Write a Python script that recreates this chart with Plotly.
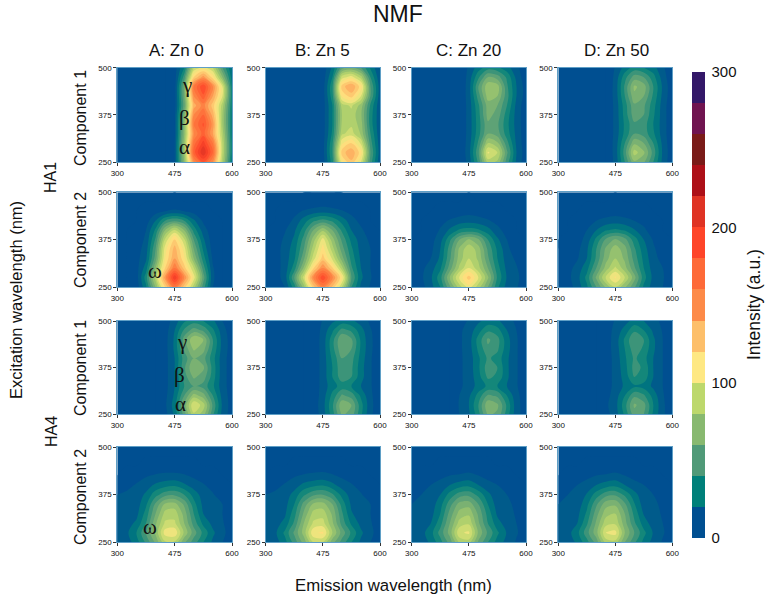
import plotly.graph_objects as go

EM_POS = list(range(13))
EX = [250, 275, 300, 325, 350, 375, 400, 425, 450, 475, 500]
EM_TICKS = [0, 6, 12]
EM_LABELS = ["300", "475", "600"]
EX_TICKS = [250, 375, 500]
COLS = ["A: Zn 0", "B: Zn 5", "C: Zn 20", "D: Zn 50"]
BAND_COLORS = ["#004f91", "#00807a", "#509a78", "#88b970", "#bdd86c", "#fee883", "#fdbf6a", "#fd8a48",
               "#fe6a38", "#fe4529", "#df3324", "#ad1018", "#7a1b18", "#701450", "#331868"]

HA1_C1_A = [
 [0,0,0,0,0,0,10,70,150,180,150,85,25],
 [0,0,0,0,0,0,10,75,175,210,170,90,30],
 [0,0,0,0,0,0,10,75,165,195,160,90,30],
 [0,0,0,0,0,0,8,70,150,175,140,85,28],
 [0,0,0,0,0,0,8,70,160,182,145,80,28],
 [0,0,0,0,0,0,8,65,150,170,135,80,28],
 [0,0,0,0,0,0,6,55,135,155,125,85,30],
 [0,0,0,0,0,0,6,60,150,178,140,100,32],
 [0,0,0,0,0,0,6,60,160,190,150,100,30],
 [0,0,0,0,0,0,5,45,120,145,115,70,25],
 [0,0,0,0,0,0,5,30,90,105,90,50,20]]
HA1_C1_B = [
 [0,0,0,0,0,0,5,35,110,128,100,45,12],
 [0,0,0,0,0,0,6,40,125,138,115,50,15],
 [0,0,0,0,0,0,6,38,108,120,98,45,14],
 [0,0,0,0,0,0,5,32,88,95,78,40,12],
 [0,0,0,0,0,0,5,30,82,88,75,35,12],
 [0,0,0,0,0,0,5,30,80,86,72,35,12],
 [0,0,0,0,0,0,5,30,85,92,76,38,12],
 [0,0,0,0,0,0,5,36,112,125,100,50,14],
 [0,0,0,0,0,0,5,38,125,140,115,50,15],
 [0,0,0,0,0,0,4,30,95,105,85,40,12],
 [0,0,0,0,0,0,3,22,55,62,50,28,10]]
HA1_C1_C = [
 [0,0,0,0,0,0,14,42,85,78,45,18,3],
 [0,0,0,0,0,0,16,48,102,90,52,20,4],
 [0,0,0,0,0,0,15,42,80,72,44,18,3],
 [0,0,0,0,0,0,14,36,60,55,35,17,3],
 [0,0,0,0,0,0,14,35,58,52,33,16,3],
 [0,0,0,0,0,0,14,36,64,56,35,16,3],
 [0,0,0,0,0,0,14,38,65,60,40,17,3],
 [0,0,0,0,0,0,15,45,75,70,44,20,5],
 [0,0,0,0,0,0,15,50,78,75,42,20,5],
 [0,0,0,0,0,0,14,38,60,55,38,17,3],
 [0,0,0,0,0,0,12,25,35,32,24,13,2]]
HA1_C1_D = [
 [0,0,0,0,0,0,13,40,68,62,40,17,2],
 [0,0,0,0,0,0,14,45,85,72,46,18,3],
 [0,0,0,0,0,0,14,40,68,60,40,17,2],
 [0,0,0,0,0,0,13,33,50,46,32,15,2],
 [0,0,0,0,0,0,13,32,48,45,30,15,2],
 [0,0,0,0,0,0,13,34,56,50,32,15,2],
 [0,0,0,0,0,0,13,35,58,52,34,15,2],
 [0,0,0,0,0,0,14,40,68,60,38,17,3],
 [0,0,0,0,0,0,14,42,72,65,40,18,3],
 [0,0,0,0,0,0,13,36,55,50,34,15,2],
 [0,0,0,0,0,0,11,24,34,30,24,12,2]]
HA1_C2_A = [
 [0,0,4,28,70,120,160,125,85,45,10,0,0],
 [0,0,5,35,85,145,200,150,105,55,12,0,0],
 [0,0,6,25,70,120,160,125,90,45,11,0,0],
 [0,0,6,18,55,110,140,112,70,35,8,0,0],
 [0,0,5,15,50,105,135,105,60,28,5,0,0],
 [0,0,4,12,42,92,122,92,50,22,4,0,0],
 [0,0,2,10,32,70,92,70,36,15,3,0,0],
 [0,0,0,5,20,40,48,40,22,8,2,0,0],
 [0,0,0,3,6,10,12,10,6,3,0,0,0],
 [0,0,0,0,0,0,1,0,0,0,0,0,0],
 [0,0,0,0,0,0,0,0,0,0,0,0,0]]
HA1_C2_B = [
 [0,3,10,35,75,125,155,128,90,40,18,9,2],
 [0,5,14,50,95,150,190,152,112,50,22,11,2],
 [0,5,14,35,72,118,150,122,84,42,20,10,2],
 [0,5,14,28,58,95,125,98,65,36,18,10,3],
 [0,5,14,25,50,85,115,85,55,32,16,10,3],
 [0,4,12,22,44,75,105,75,48,27,15,8,2],
 [0,2,9,18,35,60,78,60,38,20,12,4,0],
 [0,0,5,12,25,38,44,38,26,14,7,0,0],
 [0,0,2,7,11,14,16,14,11,7,3,0,0],
 [0,0,0,0,1,2,3,2,1,0,0,0,0],
 [0,0,0,0,0,0,0,0,0,0,0,0,0]]
HA1_C2_C = [
 [3,6,16,30,58,85,105,85,60,32,16,11,3],
 [3,8,18,36,70,102,125,100,72,38,19,13,3],
 [3,7,15,28,55,82,100,84,60,34,17,11,2],
 [1,4,10,22,48,75,90,78,52,30,15,8,0],
 [0,3,7,20,45,72,88,75,48,28,13,3,0],
 [0,2,6,16,38,60,72,62,40,22,10,2,0],
 [0,0,4,11,22,32,34,32,24,13,6,0,0],
 [0,0,3,7,11,14,16,14,11,7,3,0,0],
 [0,0,0,2,3,5,6,5,3,2,0,0,0],
 [0,0,0,0,0,0,1,0,0,0,0,0,0],
 [0,0,0,0,0,0,0,0,0,0,0,0,0]]
HA1_C2_D = [
 [2,5,14,28,50,72,90,72,52,28,15,10,2],
 [3,7,16,33,62,92,112,90,64,34,17,11,3],
 [3,6,14,26,50,74,92,74,52,30,15,10,2],
 [1,3,9,20,42,66,80,68,46,27,13,7,0],
 [0,2,7,18,40,62,76,64,42,24,12,3,0],
 [0,2,5,14,33,52,62,54,35,20,9,1,0],
 [0,0,3,10,20,29,32,29,21,12,5,0,0],
 [0,0,3,7,10,13,15,13,10,7,3,0,0],
 [0,0,0,2,3,4,5,4,3,2,0,0,0],
 [0,0,0,0,0,0,1,0,0,0,0,0,0],
 [0,0,0,0,0,0,0,0,0,0,0,0,0]]
HA4_C1_A = [
 [0,0,0,0,0,6,22,55,88,75,42,16,5],
 [0,0,0,0,0,8,25,62,100,85,48,18,5],
 [0,0,0,0,0,7,22,50,75,65,40,16,5],
 [0,0,0,0,0,6,20,40,50,46,32,14,5],
 [0,0,0,0,0,6,20,45,62,55,35,14,5],
 [0,0,0,0,0,6,20,48,70,62,36,14,5],
 [0,0,0,0,0,6,20,45,60,54,34,14,5],
 [0,0,0,0,0,6,22,52,72,64,38,16,5],
 [0,0,0,0,0,6,22,55,80,70,40,16,5],
 [0,0,0,0,0,5,20,42,55,48,32,14,4],
 [0,0,0,0,0,4,15,28,35,30,22,10,3]]
HA4_C1_B = [
 [0,0,0,0,0,3,15,35,62,56,32,12,3],
 [0,0,0,0,0,4,16,38,68,60,34,13,3],
 [0,0,0,0,0,3,15,33,52,46,28,12,3],
 [0,0,0,0,0,3,14,26,34,30,20,11,3],
 [0,0,0,0,0,3,14,30,46,40,24,11,3],
 [0,0,0,0,0,3,14,30,48,42,24,11,3],
 [0,0,0,0,0,3,14,32,50,44,26,11,3],
 [0,0,0,0,0,3,14,36,58,50,28,12,3],
 [0,0,0,0,0,3,14,36,60,52,28,12,3],
 [0,0,0,0,0,3,13,28,44,38,24,11,3],
 [0,0,0,0,0,2,11,18,24,22,16,8,2]]
HA4_C1_C = [
 [0,0,0,0,0,10,18,36,62,58,35,14,4],
 [0,0,0,0,0,11,20,40,68,62,38,14,4],
 [0,0,0,0,0,10,18,34,52,48,30,13,4],
 [0,0,0,0,0,8,14,24,32,30,20,11,3],
 [0,0,0,0,0,8,14,26,42,38,22,11,3],
 [0,0,0,0,0,8,14,28,46,40,22,11,3],
 [0,0,0,0,0,8,14,28,42,36,22,11,3],
 [0,0,0,0,0,8,15,32,48,42,24,11,3],
 [0,0,0,0,0,8,15,34,52,44,24,11,3],
 [0,0,0,0,0,8,14,26,38,34,20,10,3],
 [0,0,0,0,0,6,11,18,24,22,14,8,2]]
HA4_C1_D = [
 [0,0,0,0,0,6,15,32,56,50,28,12,3],
 [0,0,0,0,0,8,16,36,62,54,30,12,3],
 [0,0,0,0,0,6,15,30,48,42,26,11,3],
 [0,0,0,0,0,5,13,22,28,26,18,10,3],
 [0,0,0,0,0,5,13,24,40,36,20,10,2],
 [0,0,0,0,0,5,13,26,44,38,20,10,2],
 [0,0,0,0,0,5,13,28,42,34,20,10,2],
 [0,0,0,0,0,5,14,30,46,38,22,10,2],
 [0,0,0,0,0,5,14,32,50,40,22,10,2],
 [0,0,0,0,0,5,13,24,38,30,18,9,2],
 [0,0,0,0,0,4,11,16,24,20,14,7,2]]
HA4_C2_A = [
 [12,15,25,42,62,88,88,62,45,30,18,10,5],
 [14,18,30,50,72,105,108,78,55,37,22,12,6],
 [13,16,22,40,68,92,92,70,46,27,17,11,4],
 [13,14,17,34,60,84,86,66,40,20,15,10,3],
 [12,13,15,28,52,72,74,58,34,17,14,10,2],
 [10,12,14,22,36,46,48,40,26,15,11,4,0],
 [4,7,11,15,22,26,28,22,15,11,6,2,0],
 [0,2,6,9,11,12,12,11,8,5,2,0,0],
 [0,0,0,2,4,5,5,4,2,0,0,0,0],
 [0,0,0,0,0,0,0,0,0,0,0,0,0],
 [0,0,0,0,0,0,0,0,0,0,0,0,0]]
HA4_C2_B = [
 [12,15,26,44,64,90,90,64,46,30,18,10,5],
 [14,18,32,52,74,108,112,80,56,38,22,12,6],
 [13,16,23,42,70,92,94,72,46,28,17,11,4],
 [13,14,18,36,62,84,86,68,42,21,15,10,3],
 [12,13,16,30,54,72,74,60,36,18,14,10,2],
 [10,12,14,24,38,48,50,42,27,15,11,4,0],
 [4,7,11,15,23,27,29,23,15,11,6,2,0],
 [0,2,6,9,11,12,13,11,8,5,2,0,0],
 [0,0,0,2,4,5,5,4,2,0,0,0,0],
 [0,0,0,0,0,0,0,0,0,0,0,0,0],
 [0,0,0,0,0,0,0,0,0,0,0,0,0]]
HA4_C2_C = [
 [11,14,22,36,54,82,85,58,40,26,16,9,4],
 [13,16,26,44,64,98,102,68,48,32,19,11,5],
 [12,14,20,36,60,84,88,62,40,24,15,10,3],
 [11,13,16,30,54,74,78,58,36,18,13,9,2],
 [10,12,14,26,46,64,66,50,30,15,12,8,1],
 [8,10,12,20,34,45,47,37,23,13,10,3,0],
 [3,6,10,13,20,25,27,20,13,10,5,1,0],
 [0,1,5,8,10,11,13,10,7,4,1,0,0],
 [0,0,0,1,3,4,4,3,1,0,0,0,0],
 [0,0,0,0,0,0,0,0,0,0,0,0,0],
 [0,0,0,0,0,0,0,0,0,0,0,0,0]]
HA4_C2_D = [
 [11,14,22,36,54,84,86,60,42,27,16,9,4],
 [13,16,27,46,66,100,104,70,50,33,19,11,5],
 [12,14,20,38,62,86,88,64,42,25,15,10,3],
 [11,13,17,32,56,76,80,60,37,19,13,9,2],
 [10,12,14,27,48,66,68,52,31,15,12,8,1],
 [8,10,12,21,35,46,48,38,24,13,10,3,0],
 [3,6,10,13,20,25,27,20,13,10,5,1,0],
 [0,1,5,8,10,11,13,10,7,4,1,0,0],
 [0,0,0,1,3,4,4,3,1,0,0,0,0],
 [0,0,0,0,0,0,0,0,0,0,0,0,0],
 [0,0,0,0,0,0,0,0,0,0,0,0,0]]

PANELS = [
 [HA1_C1_A, HA1_C1_B, HA1_C1_C, HA1_C1_D],
 [HA1_C2_A, HA1_C2_B, HA1_C2_C, HA1_C2_D],
 [HA4_C1_A, HA4_C1_B, HA4_C1_C, HA4_C1_D],
 [HA4_C2_A, HA4_C2_B, HA4_C2_C, HA4_C2_D],
]

W, H = 768, 600
X_SPANS = [(117.3, 232.0), (265.7, 380.0), (411.7, 526.0), (558.3, 672.3)]
Y_SPANS = [(67.7, 162.0), (192.3, 287.0), (321.0, 414.3), (447.0, 542.3)]

scale = [[0, BAND_COLORS[0]]]
for i, c in enumerate(BAND_COLORS):
    scale.append([(10 + 20 * i) / 300, c])
scale.append([1, BAND_COLORS[-1]])

def fx(p): return p / W
def fy(p): return 1 - p / H

fig = go.Figure()
layout = {}
# colour-bar carrier, hidden below the first panel
fig.add_trace(go.Contour(
    x=EM_POS, y=EX, z=HA1_C1_A, xaxis="x", yaxis="y", colorscale=scale, zmin=0, zmax=300, zauto=False,
    autocontour=False, contours=dict(start=0, end=300, size=20, coloring="fill", showlines=False),
    line=dict(width=0), hoverinfo="skip", showscale=True,
    colorbar=dict(x=fx(692.3), xanchor="left", xpad=0, y=fy(538), yanchor="bottom", ypad=0,
                  len=466 / H, lenmode="fraction", thickness=13, thicknessmode="pixels", outlinewidth=0,
                  tickmode="array", tickvals=[0, 100, 200, 300], ticktext=["0", "100", "200", "300"],
                  ticks="outside", ticklen=4, tickcolor="rgba(0,0,0,0)",
                  tickfont=dict(family="Liberation Sans", size=15, color="#111"))))
n = 0
for r, row in enumerate(PANELS):
    for c, z in enumerate(row):
        n += 1
        sx = "" if n == 1 else str(n)
        fig.add_trace(go.Contour(
            x=EM_POS, y=EX, z=z, xaxis="x" + sx, yaxis="y" + sx, colorscale=scale, zmin=0, zmax=300, zauto=False,
            autocontour=False, contours=dict(start=0, end=300, size=10, coloring="fill", showlines=False),
            line=dict(width=0, smoothing=1.0), showscale=False))
        axis = dict(showgrid=False, zeroline=False, showline=True, mirror=True, linecolor="#5f9fc6", linewidth=1,
                    ticks="outside", ticklen=3, tickwidth=1, tickcolor="#333",
                    tickfont=dict(family="Liberation Sans", size=8, color="#111"))
        layout["xaxis" + sx] = dict(axis, domain=[fx(X_SPANS[c][0]), fx(X_SPANS[c][1])], range=[0, 12],
                                    anchor="y" + sx, tickmode="array", tickvals=EM_TICKS, ticktext=EM_LABELS)
        layout["yaxis" + sx] = dict(axis, domain=[fy(Y_SPANS[r][1]), fy(Y_SPANS[r][0])], range=[250, 500],
                                    anchor="x" + sx, tickmode="array", tickvals=EX_TICKS)

def text(t, px, py, size, angle=0, family="Liberation Sans"):
    fig.add_annotation(text=t, x=fx(px), y=fy(py), xref="paper", yref="paper", showarrow=False, textangle=angle,
                       xanchor="center", yanchor="middle", font=dict(family=family, size=size, color="#111"))

text("NMF", 398, 14, 23)
for t, p in zip(COLS, [176, 322, 468, 616]):
    text(t, p, 51, 17)
for t, p in zip(["Component 1", "Component 2", "Component 1", "Component 2"], [118, 240, 368, 497]):
    text(t, 80, p, 16, -90)
text("HA1", 51, 178, 16, -90)
text("HA4", 51, 432, 16, -90)
text("Excitation wavelength (nm)", 16, 300, 16.5, -90)
text("Emission wavelength (nm)", 393, 585, 16.8)
text("Intensity (a.u.)", 754, 305, 17.5, -90)
for t, px, py in [("γ", 187, 85), ("β", 184, 118), ("α", 184, 147), ("ω", 155, 271),
                  ("γ", 182, 342), ("β", 179, 375), ("α", 180, 404), ("ω", 150, 527)]:
    text(t, px, py, 21, 0, "Liberation Serif, serif")

fig.update_layout(width=W, height=H, margin=dict(l=0, r=0, t=0, b=0, autoexpand=False), paper_bgcolor="white",
                  plot_bgcolor="white", showlegend=False, **layout)
fig.write_html("out.html", config=dict(displayModeBar=False), post_script="document.body.style.margin='0';")
